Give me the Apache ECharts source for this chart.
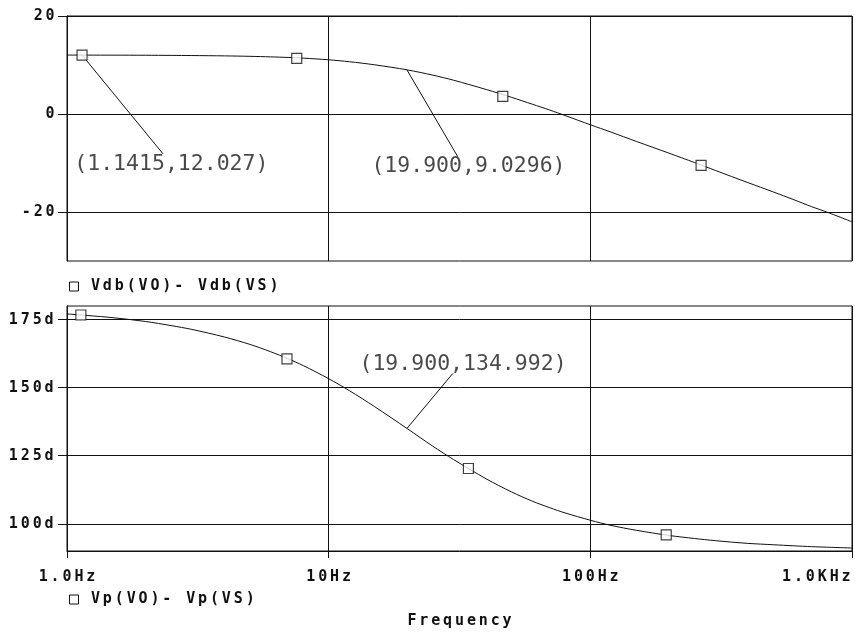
<!DOCTYPE html>
<html>
<head>
<meta charset="utf-8">
<script src="https://cdn.jsdelivr.net/npm/echarts@6/dist/echarts.min.js"></script>
<style>html,body{margin:0;padding:0;background:#fff}#c{width:855px;height:632px}</style>
</head>
<body>
<div id="c"></div>
<script>
// ---- data ----
const freqHz   = [1, 1.2, 1.5, 2, 2.5, 3, 4, 5, 6, 7, 8, 10, 12, 15, 20, 25, 30, 40, 50, 60, 70, 80, 100, 120, 150, 200, 250, 300, 400, 500, 600, 700, 800, 1000];
const magDb    = [12.03, 12.02, 12.01, 11.99, 11.96, 11.93, 11.86, 11.77, 11.66, 11.54, 11.40, 11.06, 10.67, 10.04, 9.0, 7.93, 6.9, 5.0, 3.4, 2.0, 0.8, -0.3, -2.2, -3.7, -5.6, -8.0, -9.9, -11.5, -14.0, -15.9, -17.5, -18.9, -20.0, -22.0];
const phaseDeg = [177.1, 176.5, 175.7, 174.3, 172.8, 171.4, 168.6, 165.9, 163.2, 160.6, 158.1, 153.3, 148.9, 143.0, 134.9, 128.5, 123.6, 116.5, 111.7, 108.3, 105.9, 104.0, 101.3, 99.4, 97.6, 95.7, 94.6, 93.8, 92.8, 92.3, 91.9, 91.6, 91.4, 91.1];

const magMarkerHz    = [1.1415, 7.55, 46.3, 265];
const magMarkerDb    = [12.027, 11.35, 3.6, -10.5];
const phaseMarkerHz  = [1.13, 6.93, 34.2, 195];
const phaseMarkerDeg = [176.7, 160.6, 120.3, 95.9];

const magName   = 'Vdb(VO)- Vdb(VS)';
const phaseName = 'Vp(VO)- Vp(VS)';
const xTitle    = 'Frequency';
const xTickLabels = {1: '1.0Hz', 10: '10Hz', 100: '100Hz', 1000: '1.0KHz'};
const magTicks   = [-20, 0, 20];
const phaseTicks = [100, 125, 150, 175];

// annotations: [point x, point y, label x, label y, leader end x, leader end y, text]
const magNotes = [
  [1.1415, 12.027, 2.505, -10.36, 2.325, -8.1, '(1.1415,12.027)'],
  [19.9, 9.0296, 34.22, -10.77, 31.15, -8.72, '(19.900,9.0296)']
];
const phaseNotes = [
  [19.9, 134.992, 32.62, 158.6, 29.8, 155.2, '(19.900,134.992)']
];

// ---- rendering ----
const ink = '#111111';
const pitch = 11.9;
function spaced(s) { return s.split('').map(c => '{c|' + c + '}').join(''); }
const richMono = {
  c: {width: pitch, align: 'center', fontFamily: 'DejaVu Sans Mono', fontWeight: 'bold', fontSize: 15, color: ink},
  p: {width: 6, fontSize: 15}
};

function notesLines(notes) {
  return notes.map(n => [{coord: [n[0], n[1]]}, {coord: [n[4], n[5]]}]);
}
function notesLabels(notes) {
  return notes.map(n => ({value: [n[2], n[3]], name: n[6]}));
}

const xBase = {
  type: 'log', logBase: 10, min: 1, max: 1000,
  axisLine: {show: true, lineStyle: {color: ink, width: 1}},
  splitLine: {show: true, lineStyle: {color: ink, width: 1}},
  minorTick: {show: false}, minorSplitLine: {show: false}
};

const noteLabel = {show: true, position: 'inside', formatter: '{b}', fontFamily: 'DejaVu Sans Mono', fontSize: 21.5, color: '#1c1c1c'};

const chart = echarts.init(document.getElementById('c'), null, {renderer: 'canvas'});
chart.setOption({
  animation: false,
  backgroundColor: '#ffffff',
  grid: [
    {left: 67, top: 16, width: 785, height: 245, show: true, borderColor: ink, borderWidth: 1, containLabel: false},
    {left: 67, top: 306, width: 785, height: 245, show: true, borderColor: ink, borderWidth: 1, containLabel: false}
  ],
  xAxis: [
    Object.assign({}, xBase, {gridIndex: 0, axisTick: {show: false}, axisLabel: {show: false}}),
    Object.assign({}, xBase, {
      gridIndex: 1,
      axisTick: {show: true, inside: false, length: 7, lineStyle: {color: ink}},
      axisLabel: {
        show: true, margin: 19,
        formatter: v => spaced(xTickLabels[Math.round(v)] || ''),
        rich: richMono, alignMinLabel: 'center', alignMaxLabel: 'right'
      },
      name: spaced(xTitle), nameLocation: 'middle', nameGap: 63,
      nameTextStyle: {rich: richMono}
    })
  ],
  yAxis: [
    {
      type: 'value', gridIndex: 0, min: -30, max: 20,
      axisLine: {show: true, lineStyle: {color: ink}},
      axisTick: {show: true, inside: false, length: 9, customValues: magTicks, lineStyle: {color: ink}},
      axisLabel: {customValues: magTicks, margin: 11, formatter: v => spaced(String(v)), rich: richMono},
      splitLine: {show: true, lineStyle: {color: ink, width: 1}}
    },
    {
      type: 'value', gridIndex: 1, min: 90, max: 180,
      axisLine: {show: true, lineStyle: {color: ink}},
      axisTick: {show: true, inside: false, length: 9, customValues: phaseTicks, lineStyle: {color: ink}},
      axisLabel: {customValues: phaseTicks, margin: 12, formatter: v => spaced(v + 'd'), rich: richMono},
      splitLine: {show: true, lineStyle: {color: ink, width: 1}}
    }
  ],
  legend: [
    {
      data: [magName], left: 64, top: 274, icon: 'rect', itemWidth: 9, itemHeight: 9, selectedMode: false,
      itemStyle: {color: '#fff', borderColor: ink, borderWidth: 1},
      formatter: n => '{p| }' + spaced(n), textStyle: {rich: richMono}
    },
    {
      data: [phaseName], left: 64, top: 587, icon: 'rect', itemWidth: 9, itemHeight: 9, selectedMode: false,
      itemStyle: {color: '#fff', borderColor: ink, borderWidth: 1},
      formatter: n => '{p| }' + spaced(n), textStyle: {rich: richMono}
    }
  ],
  series: [
    {
      name: magName, type: 'line', xAxisIndex: 0, yAxisIndex: 0,
      data: freqHz.map((f, i) => [f, magDb[i]]),
      showSymbol: false, smooth: 0.3, lineStyle: {color: ink, width: 1}, itemStyle: {color: ink},
      markLine: {silent: true, symbol: ['none', 'none'], label: {show: false},
        lineStyle: {color: ink, width: 1, type: 'solid'}, data: notesLines(magNotes)}
    },
    {
      type: 'scatter', xAxisIndex: 0, yAxisIndex: 0, symbol: 'rect', symbolSize: 10, z: 5,
      data: magMarkerHz.map((f, i) => [f, magMarkerDb[i]]),
      itemStyle: {color: '#fff', borderColor: ink, borderWidth: 1.2}
    },
    {
      type: 'scatter', xAxisIndex: 0, yAxisIndex: 0, symbolSize: 1, silent: true,
      itemStyle: {color: 'transparent'},
      data: notesLabels(magNotes),
      label: noteLabel
    },
    {
      name: phaseName, type: 'line', xAxisIndex: 1, yAxisIndex: 1,
      data: freqHz.map((f, i) => [f, phaseDeg[i]]),
      showSymbol: false, smooth: 0.3, lineStyle: {color: ink, width: 1}, itemStyle: {color: ink},
      markLine: {silent: true, symbol: ['none', 'none'], label: {show: false},
        lineStyle: {color: ink, width: 1, type: 'solid'}, data: notesLines(phaseNotes)}
    },
    {
      type: 'scatter', xAxisIndex: 1, yAxisIndex: 1, symbol: 'rect', symbolSize: 10, z: 5,
      data: phaseMarkerHz.map((f, i) => [f, phaseMarkerDeg[i]]),
      itemStyle: {color: '#fff', borderColor: ink, borderWidth: 1.2}
    },
    {
      type: 'scatter', xAxisIndex: 1, yAxisIndex: 1, symbolSize: 1, silent: true,
      itemStyle: {color: 'transparent'},
      data: notesLabels(phaseNotes),
      label: noteLabel
    }
  ]
});
</script>
</body>
</html>
